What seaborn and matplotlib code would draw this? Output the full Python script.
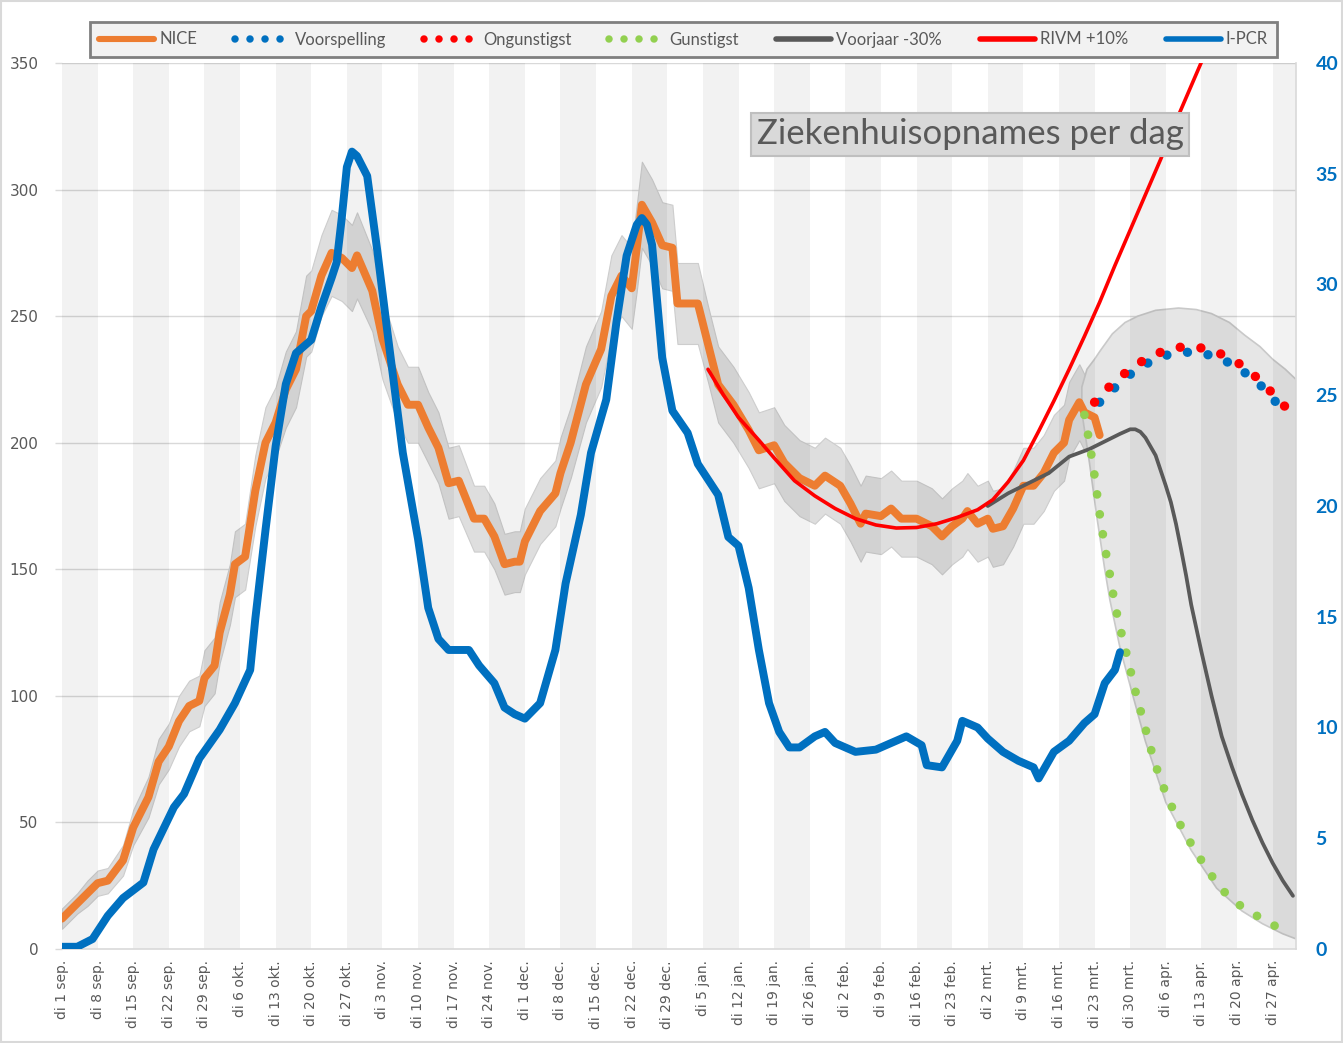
import numpy as np
import matplotlib
matplotlib.use("Agg")
import matplotlib.pyplot as plt
from matplotlib.lines import Line2D
from matplotlib.patches import Rectangle
import seaborn as sns

# ---------------- data (days since di 1 sep. 2020) ----------------
TICK_LABELS = ["di 1 sep.", "di 8 sep.", "di 15 sep.", "di 22 sep.", "di 29 sep.",
               "di 6 okt.", "di 13 okt.", "di 20 okt.", "di 27 okt.", "di 3 nov.",
               "di 10 nov.", "di 17 nov.", "di 24 nov.", "di 1 dec.", "di 8 dec.",
               "di 15 dec.", "di 22 dec.", "di 29 dec.", "di 5 jan.", "di 12 jan.",
               "di 19 jan.", "di 26 jan.", "di 2 feb.", "di 9 feb.", "di 16 feb.",
               "di 23 feb.", "di 2 mrt.", "di 9 mrt.", "di 16 mrt.", "di 23 mrt.",
               "di 30 mrt.", "di 6 apr.", "di 13 apr.", "di 20 apr.", "di 27 apr."]

NICE_DAY = [0, 3, 5, 7, 9, 12, 14, 17, 19, 21, 23, 25, 27, 28, 30, 31, 33, 34, 36, 38,
            40, 42, 44, 46, 48, 49, 51, 53, 55, 57, 58, 61, 63, 66, 68, 70, 72, 74, 76, 78,
            81, 83, 85, 87, 89, 90, 91, 94, 97, 98, 100, 103, 106, 108, 110, 112, 113, 114, 116, 118,
            120, 121, 123, 125, 127, 129, 132, 135, 137, 140, 142, 145, 148, 150, 153, 155, 157, 158, 161, 163,
            165, 168, 171, 173, 175, 177, 178, 180, 182, 183, 185, 187, 189, 191, 193, 195, 197, 198, 200, 201,
            203, 204]
NICE_VAL = [12, 18, 22, 26, 27, 35, 48, 60, 74, 80, 90, 96, 98, 107, 112, 125, 140, 152, 155, 181,
            200, 208, 221, 229, 250, 252, 266, 275, 273, 269, 274, 260, 241, 223, 215, 215, 206, 198, 184, 185,
            170, 170, 163, 152, 153, 153, 161, 173, 180, 188, 200, 223, 237, 258, 266, 261, 277, 294, 287, 278,
            277, 255, 255, 255, 239, 223, 215, 205, 197, 199, 192, 186, 183, 187, 183, 176, 168, 172, 171, 174,
            170, 170, 167, 163, 167, 170, 173, 168, 170, 166, 167, 174, 183, 183, 188, 196, 200, 209, 216, 212,
            210, 203]
NICE_HW = [4, 4, 5, 5, 5, 6, 7, 8, 9, 9, 10, 10, 10, 11, 11, 12, 12, 13, 13, 14,
           14, 14, 15, 15, 16, 16, 16, 17, 17, 17, 17, 16, 16, 15, 15, 15, 14, 14, 14, 14,
           13, 13, 13, 12, 12, 12, 13, 13, 13, 14, 14, 15, 15, 16, 16, 16, 17, 17, 17, 17,
           17, 16, 16, 16, 15, 15, 15, 15, 15, 15, 15, 15, 15, 15, 15, 15, 15, 15, 15, 15,
           15, 15, 15, 15, 15, 15, 15, 15, 15, 15, 15, 15, 15, 15, 15, 15, 15, 15, 15, 15,
           15, 15]

PCR_DAY = [0, 3, 6, 9, 12, 16, 18, 22, 24, 27, 31, 34, 37, 38, 40, 42, 44, 46, 49, 51,
           53, 54, 55, 56, 57, 58, 60, 62, 64, 67, 70, 72, 74, 76, 80, 82, 85, 87, 89, 91,
           94, 97, 99, 102, 104, 107, 109, 111, 113, 114, 115, 116, 118, 120, 123, 125, 129, 131, 133, 135,
           137, 139, 141, 143, 145, 148, 150, 152, 156, 160, 163, 166, 169, 170, 173, 175, 176, 177, 180, 182,
           185, 188, 191, 192, 195, 198, 201, 203, 205, 207, 208]
PCR_VAL = [0.1, 0.1, 0.45, 1.5, 2.3, 3.0, 4.5, 6.4, 7.0, 8.6, 9.9, 11.1, 12.6, 14.9, 18.9, 22.7, 25.5, 26.9, 27.5, 29.0,
           30.3, 31.0, 33.0, 35.3, 36.0, 35.8, 34.9, 31.5, 27.8, 22.4, 18.5, 15.4, 14.0, 13.5, 13.5, 12.8, 12.0, 10.9, 10.6, 10.4,
           11.1, 13.5, 16.5, 19.6, 22.4, 24.8, 28.3, 31.3, 32.7, 33.0, 32.7, 31.8, 26.7, 24.3, 23.3, 21.9, 20.5, 18.6, 18.2, 16.3,
           13.5, 11.1, 9.8, 9.1, 9.1, 9.6, 9.8, 9.3, 8.9, 9.0, 9.3, 9.6, 9.2, 8.3, 8.2, 9.0, 9.4, 10.3, 10.0, 9.5,
           8.9, 8.5, 8.2, 7.7, 8.9, 9.4, 10.2, 10.6, 12.0, 12.6, 13.4]

RIVM_DAY = [127, 130, 133, 137, 140, 144, 148, 152, 156, 160, 164, 168, 172, 176, 180,
            183, 186, 189, 192, 195, 198, 201, 204, 207, 210, 213, 216, 219, 222, 225]
RIVM_VAL = [229, 219, 210, 201, 194, 185, 179, 174, 170, 167.5, 166.3, 166.5, 168, 170.5, 173.5,
            177.5, 184.5, 193, 204.5, 216.5, 229, 242, 255.5, 270, 284, 298, 312, 327, 341, 355]

VJ_DAY = [182, 186, 190, 194, 198, 202, 206, 208, 210, 211, 212, 213, 214, 215, 216, 217, 218, 219,
          220, 221, 222, 224, 226, 228, 230, 232, 234, 236, 238, 240, 242]
VJ_VAL = [175, 180, 184, 188, 194.5, 197.5, 201.5, 203.5, 205.3, 205.3, 204.3, 202, 198.5, 195, 189, 183, 176.5, 168,
          158, 147.5, 136, 117.5, 100, 84, 72, 61, 51, 42, 34, 27, 21]

VS_DAY = [204, 206, 208, 210, 212, 214, 216, 218, 220, 222, 224, 226, 228, 230, 232, 234, 236, 238, 240]
VS_VAL = [216, 220, 223.5, 227, 230, 232, 234, 235, 235.6, 235.8, 235.4, 234.4, 233, 231, 228.5, 225.5, 222, 217.5, 213]

ONG_DAY = [203, 205, 207, 209, 211, 213, 215, 217, 219, 221, 223, 225, 227, 229, 231, 233, 235, 237, 239, 241, 242.3]
ONG_VAL = [216, 220.5, 224, 227.5, 230.5, 233, 235, 236.5, 237.5, 238, 237.8, 237, 235.8, 234, 231.8, 229, 225.5, 221.5,
           217.5, 213, 210.5]

GUN_DAY = [201, 202, 203, 204, 205, 206, 207, 208, 209, 210, 211, 212, 213, 214, 215, 216, 217, 218,
           220, 222, 224, 226, 228, 231, 235, 238, 242]
GUN_VAL = [211, 200, 187, 172, 159, 148, 136, 127, 119, 110.5, 102, 94.5, 87, 79.5, 72.5, 67, 61.5, 57,
           48.5, 41.5, 35, 29, 23.5, 18, 13, 9.5, 6.5]

FAN_UP_DAY = [200.5, 201.5, 203, 204, 206.5, 209, 211.5, 215, 219.5, 223, 226, 229.5, 232.5, 235.5, 238, 240.5, 242.6]
FAN_UP_VAL = [222, 229, 233, 236, 243, 247.5, 250, 252.3, 253.2, 252.6, 251, 247.5, 242.5, 238, 233, 229, 225]
FAN_LO_DAY = [200.5, 202, 203.5, 205, 206, 208, 210, 213, 217, 222, 227, 232, 236, 240, 242.6]
FAN_LO_VAL = [212, 192, 170, 150, 138, 119, 104, 82, 58, 39, 24, 15, 10, 6, 4]

# ---------------- styling ----------------
sns.set_theme(style="white")
plt.rcParams['font.family'] = ['DejaVu Sans']

W, H = 1343, 1043
fig = plt.figure(figsize=(W / 100, H / 100), dpi=100)
fig.patch.set_facecolor('white')
ax = fig.add_axes([62 / W, 1 - 949 / H, (1296 - 62) / W, (949 - 63) / H])
ax.set_facecolor('white')
ax2 = ax.twinx()

XMAX = 242.6
ax.set_xlim(0, XMAX)
ax.set_ylim(0, 350)
ax2.set_ylim(0, 40)

ax.set_yticks(range(0, 351, 50))
ax.grid(axis='y', color='#d9d9d9', lw=1)
ax.grid(axis='x', visible=False)
ax.set_axisbelow(True)

nice_day = np.array(NICE_DAY, float)
nice_val = np.array(NICE_VAL, float)
nice_hw = np.array(NICE_HW, float)
nice_lo = nice_val - nice_hw
nice_hi = nice_val + nice_hw

# opaque white under the bands (hides gridlines, as in the original)
ax.fill_between(nice_day, 0, nice_lo, color='white', lw=0, zorder=1)
ax.fill_between(FAN_LO_DAY, 0, FAN_LO_VAL, color='white', lw=0, zorder=1)
ax.fill_between(nice_day, nice_lo, nice_hi, facecolor='#dedede', edgecolor='#cdcdcd', lw=0.8, zorder=1.5)
ax.fill(np.r_[FAN_UP_DAY, FAN_LO_DAY[::-1]], np.r_[FAN_UP_VAL, FAN_LO_VAL[::-1]],
        facecolor='#e6e6e6', edgecolor='#c9c9c9', lw=1.2, zorder=1.5)

# alternating week bands
TICK_DAYS = list(range(0, 7 * len(TICK_LABELS), 7))
for k, d in enumerate(TICK_DAYS):
    if k % 2 == 0:
        ax.axvspan(d, min(d + 7, XMAX), color='black', alpha=0.05, lw=0, zorder=2)

# lines
sns.lineplot(x=NICE_DAY, y=NICE_VAL, ax=ax, color='#ed7d31', lw=5.7, errorbar=None,
             solid_capstyle='round', solid_joinstyle='round', zorder=3)
sns.lineplot(x=VJ_DAY, y=VJ_VAL, ax=ax, color='#595959', lw=2.7, errorbar=None,
             solid_capstyle='round', zorder=3.2)
sns.lineplot(x=RIVM_DAY, y=RIVM_VAL, ax=ax, color='#ff0000', lw=2.6, errorbar=None,
             solid_capstyle='round', zorder=3.4)
dot_ls = (0, (0.001, 2.2))
sns.lineplot(x=VS_DAY, y=VS_VAL, ax=ax, color='#0070c0', lw=6.8, errorbar=None,
             linestyle=dot_ls, dash_capstyle='round', zorder=3.6)
sns.lineplot(x=ONG_DAY, y=ONG_VAL, ax=ax, color='#ff0000', lw=6.8, errorbar=None,
             linestyle=dot_ls, dash_capstyle='round', zorder=3.7)
sns.lineplot(x=GUN_DAY, y=GUN_VAL, ax=ax, color='#92d050', lw=6.3, errorbar=None,
             linestyle=(0, (0.001, 2.3)), dash_capstyle='round', zorder=3.8)
sns.lineplot(x=PCR_DAY, y=PCR_VAL, ax=ax2, color='#0070c0', lw=5.7, errorbar=None,
             solid_capstyle='round', solid_joinstyle='round', zorder=4)

# axes cosmetics
ax.set_xticks(TICK_DAYS)
ax.set_xticklabels(TICK_LABELS, rotation=90, fontsize=10, color='#595959')
ax.tick_params(axis='x', length=0, pad=8)
ax.tick_params(axis='y', length=5, color='#d9d9d9', width=1, pad=12, labelsize=11, labelcolor='#595959')
for s in ['left', 'top', 'right']:
    ax.spines[s].set_visible(False)
ax.spines['bottom'].set_color('#d9d9d9')
ax.spines['bottom'].set_linewidth(1.2)
ax.set_xlabel('')
ax.set_ylabel('')

ax2.set_yticks(range(0, 41, 5))
ax2.tick_params(axis='y', length=0, pad=14)
for lab in ax2.get_yticklabels():
    lab.set_fontfamily('Lato')
    lab.set_fontweight('bold')
    lab.set_fontsize(14)
    lab.set_color('#0070c0')
for s in ['left', 'top', 'bottom']:
    ax2.spines[s].set_visible(False)
ax2.spines['right'].set_color('#d9d9d9')
ax2.spines['right'].set_linewidth(1.2)
ax2.set_ylabel('')
ax2.set_xlabel('')

# legend
leg_dots = (0, (0.001, 2.0))
handles = [
    Line2D([], [], color='#ed7d31', lw=4.4, solid_capstyle='round'),
    Line2D([], [], color='#0070c0', lw=5.4, ls=leg_dots, dash_capstyle='round'),
    Line2D([], [], color='#ff0000', lw=5.4, ls=leg_dots, dash_capstyle='round'),
    Line2D([], [], color='#92d050', lw=5.4, ls=leg_dots, dash_capstyle='round'),
    Line2D([], [], color='#595959', lw=4.0, solid_capstyle='round'),
    Line2D([], [], color='#ff0000', lw=4.0, solid_capstyle='round'),
    Line2D([], [], color='#0070c0', lw=4.0, solid_capstyle='round'),
]
labels = ['NICE', 'Voorspelling', 'Ongunstigst', 'Gunstigst', 'Voorjaar -30%', 'RIVM +10%', 'I-PCR']
leg = fig.legend(handles, labels, loc='center', bbox_to_anchor=((90 + 1277) / 2 / W, 1 - 39.5 / H),
                 ncol=7, frameon=True, fancybox=False, edgecolor='#7f7f7f', facecolor='#f2f2f2',
                 framealpha=1, handlelength=3.3, handletextpad=0.3, columnspacing=2.25, borderpad=0.55,
                 prop={'family': 'Lato', 'size': 12}, labelcolor='#595959')
leg.get_frame().set_linewidth(2)

# title box
fig.text(970 / W, 1 - 134.5 / H, 'Ziekenhuisopnames per dag', fontsize=25, family='Lato',
         color='#595959', ha='center', va='center',
         bbox=dict(boxstyle='square,pad=0.17', fc='#d9d9d9', ec='#bfbfbf', lw=1.5))

# chart-area border
fig.patches.append(Rectangle((0.0008, 0.001), 0.9985, 0.998, transform=fig.transFigure,
                             fill=False, ec='#d9d9d9', lw=1.5))

fig.savefig('out.png', dpi=100, facecolor='white')
